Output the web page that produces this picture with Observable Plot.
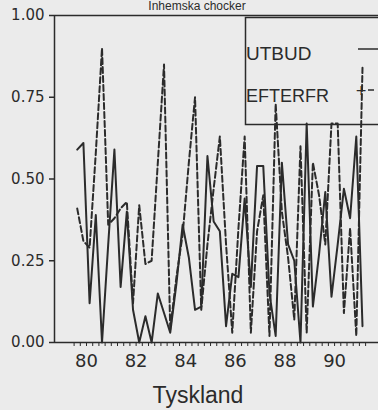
<!DOCTYPE html>
<html><head><meta charset="utf-8">
<script src="https://cdn.jsdelivr.net/npm/d3@7"></script>
<script src="https://cdn.jsdelivr.net/npm/@observablehq/plot@0.6"></script>
<style>
html,body{margin:0;padding:0;background:#ebebeb;overflow:hidden}
#chart svg{display:block}
</style></head><body><div id="chart"></div>
<script>
const title = "Inhemska chocker";
const xLabel = "Tyskland";
const seriesNames = ["UTBUD", "EFTERFR"];
const startPeriod = 79.625; // first quarter (1979 Q3, mid-quarter)
const utbud = [0.59,0.61,0.12,0.39,0.00,0.30,0.59,0.17,0.40,0.10,0.00,0.08,0.00,0.15,0.09,0.03,0.18,0.36,0.26,0.10,0.11,0.57,0.37,0.34,0.05,0.21,0.20,0.44,0.17,0.54,0.54,0.15,0.02,0.55,0.30,0.25,0.00,0.67,0.11,0.27,0.46,0.14,0.30,0.47,0.38,0.63,0.05];
const efterfr = [0.41,0.31,0.29,0.58,0.90,0.36,0.38,0.41,0.43,0.12,0.42,0.24,0.25,0.55,0.85,0.04,0.20,0.33,0.55,0.75,0.10,0.30,0.47,0.63,0.30,0.03,0.35,0.63,0.03,0.34,0.45,0.02,0.73,0.40,0.26,0.07,0.60,0.03,0.55,0.45,0.30,0.67,0.67,0.09,0.35,0.02,0.84];
const xTicks = [80, 82, 84, 86, 88, 90];
const yTicks = [0, 0.25, 0.5, 0.75, 1];
const xDomain = [78.71, 91.77];

const period = utbud.map((_, i) => startPeriod + i * 0.25);
const rowsU = period.map((t, i) => ({t, v: utbud[i]}));
const rowsE = period.map((t, i) => ({t, v: efterfr[i]}));
const quarterTicks = d3.range(79.5, 91.26, 0.25);
const ink = "#2b2b2b";

const chart = Plot.plot({
  width: 378, height: 410,
  marginLeft: 54, marginRight: 0, marginTop: 15, marginBottom: 68,
  style: {background: "transparent", color: ink, fontFamily: "DejaVu Sans", overflow: "hidden"},
  x: {domain: xDomain},
  y: {domain: [0, 1]},
  marks: [
    Plot.axisY({ticks: yTicks, tickFormat: d3.format(".2f"), tickSize: 5, tickPadding: 5, fontSize: 15, label: null, strokeWidth: 1.5}),
    Plot.axisX({ticks: quarterTicks, tickSize: 4, tickFormat: () => "", label: null}),
    Plot.axisX({ticks: xTicks, tickSize: 0, tickPadding: 12, fontSize: 18, label: null}),
    Plot.ruleY([0, 1], {stroke: ink, strokeWidth: 1.5}),
    Plot.ruleX([xDomain[0]], {stroke: ink, strokeWidth: 1.5}),
    Plot.line(rowsU, {x: "t", y: "v", stroke: ink, strokeWidth: 2}),
    Plot.line(rowsE, {x: "t", y: "v", stroke: ink, strokeWidth: 2, strokeDasharray: "6,3"})
  ]
});
document.getElementById("chart").appendChild(chart);

const svg = d3.select(chart);
// title
svg.append("text").attr("x", 197).attr("y", 10).attr("text-anchor", "middle")
  .attr("font-family", "Liberation Sans").attr("font-size", 12).attr("fill", ink).text(title);
// x label
svg.append("text").attr("x", 198).attr("y", 403).attr("text-anchor", "middle")
  .attr("font-family", "Liberation Sans").attr("font-size", 23).attr("fill", ink).text(xLabel);
// legend
const lg = svg.append("g").attr("text-anchor", "start");
lg.append("rect").attr("x", 245.5).attr("y", 17.5).attr("width", 200).attr("height", 107)
  .attr("fill", "none").attr("stroke", ink).attr("stroke-width", 1.5);
lg.append("text").attr("x", 246).attr("y", 60).attr("text-anchor", "start").attr("font-family", "Liberation Sans")
  .attr("font-size", 19).attr("fill", ink).text(seriesNames[0]);
lg.append("text").attr("x", 246).attr("y", 102).attr("text-anchor", "start").attr("font-family", "Liberation Sans")
  .attr("font-size", 18).attr("fill", ink).text(seriesNames[1]);
lg.append("line").attr("x1", 358).attr("x2", 390).attr("y1", 49).attr("y2", 49)
  .attr("stroke", ink).attr("stroke-width", 1.5);
lg.append("line").attr("x1", 368).attr("x2", 390).attr("y1", 90).attr("y2", 90)
  .attr("stroke", ink).attr("stroke-width", 1.5).attr("stroke-dasharray", "6,4");
lg.append("text").attr("x", 361).attr("y", 95).attr("text-anchor", "middle")
  .attr("font-family", "DejaVu Sans").attr("font-size", 14).attr("fill", ink).text("+");
</script></body></html>
